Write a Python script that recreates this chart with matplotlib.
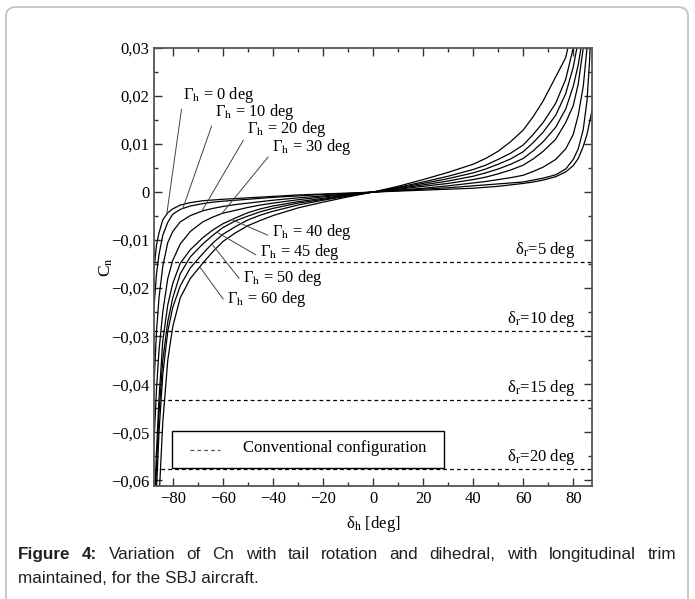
import matplotlib
matplotlib.use("Agg")
import matplotlib.pyplot as plt
import matplotlib.patches as patches
from matplotlib.ticker import MultipleLocator, FuncFormatter
import numpy as np

plt.rcParams["font.family"] = ["Liberation Serif", "DejaVu Serif"]
plt.rcParams["mathtext.fontset"] = "stix"

# tail rotation angle delta_h [deg]
delta_h = [-87.5, -86.5, -85.5, -84, -82, -80, -77, -73, -68, -64, -60, -55, -50, -45, -40,
           -30, -20, -10, 0, 10, 20, 30, 40, 45, 50, 55, 60, 64, 68, 73, 77, 80, 82, 84,
           85.5, 86.5, 87.5]

dihedral = [0, 10, 20, 30, 40, 45, 50, 60]

cn_g0 = [-0.016, -0.011, -0.0085, -0.0058, -0.0043, -0.0035, -0.0027, -0.0022, -0.0018,
         -0.00165, -0.0015, -0.00135, -0.0012, -0.00105, -0.0009, -0.0006, -0.0004, -0.0002,
         0.0, 0.0002, 0.0004, 0.0006, 0.0008, 0.001, 0.0012, 0.0015, 0.0018, 0.0021, 0.0025,
         0.0032, 0.0042, 0.0055, 0.007, 0.0095, 0.012, 0.0145, 0.017]
cn_g10 = [-0.024, -0.017, -0.013, -0.009, -0.0063, -0.0046, -0.0036, -0.0029, -0.0024,
          -0.0021, -0.0019, -0.0017, -0.0015, -0.0013, -0.0011, -0.0008, -0.0005, -0.0003,
          0.0, 0.0003, 0.0006, 0.0009, 0.0013, 0.0015, 0.0017, 0.0019, 0.0021, 0.0025,
          0.0029, 0.0036, 0.0048, 0.0068, 0.009, 0.013, 0.019, 0.027, 0.04]
cn_g20 = [-0.04, -0.029, -0.022, -0.0155, -0.0105, -0.0082, -0.0062, -0.0049, -0.0039,
          -0.0034, -0.003, -0.0026, -0.0023, -0.002, -0.0017, -0.0012, -0.0008, -0.0004,
          0.0, 0.0004, 0.0008, 0.0013, 0.0019, 0.0022, 0.0026, 0.003, 0.0035, 0.0043,
          0.0052, 0.0068, 0.009, 0.012, 0.016, 0.022, 0.030, 0.038, 0.05]
cn_g30 = [-0.052, -0.041, -0.033, -0.025, -0.018, -0.0142, -0.0108, -0.0082, -0.0062,
          -0.0052, -0.0044, -0.0038, -0.0032, -0.0027, -0.0023, -0.0016, -0.001, -0.0005,
          0.0, 0.0006, 0.0012, 0.0018, 0.0026, 0.0031, 0.0038, 0.0046, 0.0056, 0.0069,
          0.0085, 0.011, 0.0145, 0.018, 0.0225, 0.030, 0.038, 0.046, 0.058]
cn_g40 = [-0.068, -0.054, -0.043, -0.031, -0.0235, -0.019, -0.0148, -0.012, -0.0095,
          -0.0079, -0.0066, -0.0054, -0.0043, -0.0035, -0.0029, -0.002, -0.0013, -0.0006,
          0.0, 0.0007, 0.0015, 0.0023, 0.0033, 0.004, 0.0048, 0.0058, 0.0070, 0.0086,
          0.0105, 0.0135, 0.0173, 0.022, 0.0265, 0.033, 0.04, 0.048, 0.06]
cn_g45 = [-0.072, -0.057, -0.046, -0.035, -0.027, -0.022, -0.017, -0.0135, -0.0108,
          -0.009, -0.0074, -0.006, -0.005, -0.0041, -0.0034, -0.0023, -0.0015, -0.0007,
          0.0, 0.0009, 0.0018, 0.0028, 0.0040, 0.0048, 0.0058, 0.0069, 0.0084, 0.0103,
          0.0125, 0.016, 0.0205, 0.026, 0.0315, 0.04, 0.049, 0.058, 0.07]
cn_g50 = [-0.078, -0.062, -0.05, -0.038, -0.029, -0.024, -0.0195, -0.0158, -0.0128,
          -0.0106, -0.0088, -0.0072, -0.0058, -0.0048, -0.004, -0.0027, -0.0017, -0.0008,
          0.0, 0.0010, 0.0021, 0.0033, 0.0047, 0.0056, 0.0068, 0.0081, 0.0098, 0.012,
          0.0145, 0.0185, 0.0235, 0.030, 0.036, 0.045, 0.055, 0.065, 0.08]
cn_g60 = [-0.1, -0.08, -0.064, -0.048, -0.035, -0.028, -0.022, -0.018, -0.0148,
          -0.0124, -0.0103, -0.0085, -0.007, -0.0059, -0.0049, -0.0033, -0.0021, -0.001,
          0.0, 0.0012, 0.0026, 0.0041, 0.0058, 0.007, 0.0085, 0.0105, 0.0129, 0.0157,
          0.019, 0.024, 0.028, 0.035, 0.042, 0.05, 0.06, 0.07, 0.085]
curves = [cn_g0, cn_g10, cn_g20, cn_g30, cn_g40, cn_g45, cn_g50, cn_g60]

# conventional configuration, rudder deflections
rudder = [5, 10, 15, 20]
cn_conv = [-0.0146, -0.029, -0.0433, -0.0577]

# label placement: text position (delta, Cn) and delta where pointer hits the curve
label_pos = [(-76, 0.0202), (-63.2, 0.0167), (-50.4, 0.0131), (-40.4, 0.0093),
             (-40.4, -0.0083), (-45.2, -0.0125), (-52, -0.0179), (-58.4, -0.0223)]
label_hit = [-82.4, -76, -68.4, -60.4, -56.4, -62.4, -64.4, -69.2]

fig = plt.figure(figsize=(6.95, 5.99), dpi=100)
fig.patches.append(patches.FancyBboxPatch(
    (6 / 695, -0.05), 682 / 695, 1.0 - 7 / 599 + 0.05,
    boxstyle="round,pad=0,rounding_size=0.015",
    transform=fig.transFigure, fill=False, edgecolor="#c4c4c4", linewidth=1.3))

ax = fig.add_axes([154 / 695, 1 - 486 / 599, 438 / 695, 438 / 599])

for cn in curves:
    ax.plot(delta_h, cn, color="black", lw=0.9)

for r, c in zip(rudder, cn_conv):
    ax.axhline(c, color="black", lw=0.9, ls=(0, (3, 2.5)))
    ax.text(80.8, c + 0.0004, "\u03b4$_\\mathrm{r}$=%d deg" % r,
            ha="right", va="bottom", fontsize=12)

for g, cn, (tx, ty), hx in zip(dihedral, curves, label_pos, label_hit):
    hy = np.interp(hx, delta_h, cn)
    ax.annotate("\u0393$_\\mathrm{h}$ = %d deg" % g, xy=(hx, hy), xytext=(tx, ty),
                ha="left", va="center", fontsize=11.8,
                arrowprops=dict(arrowstyle="-", color="#444444", lw=0.7,
                                shrinkA=1, shrinkB=0, relpos=(0, 0.25)))

ax.set_xlim(-87.5, 87.5)
ax.set_ylim(-0.0612, 0.03)

ax.xaxis.set_major_locator(MultipleLocator(20))
ax.xaxis.set_minor_locator(MultipleLocator(10))
ax.yaxis.set_major_locator(MultipleLocator(0.01))
ax.yaxis.set_minor_locator(MultipleLocator(0.005))


def comma_fmt(v, pos):
    if abs(v) < 1e-9:
        return "0"
    s = "%.2f" % v
    return s.replace(".", ",").replace("-", "\u2212")


ax.yaxis.set_major_formatter(FuncFormatter(comma_fmt))
ax.tick_params(which="both", direction="in", top=True, right=True,
               labelsize=12, color="#333333", width=1.0)
ax.tick_params(which="major", length=6)
ax.tick_params(which="minor", length=3)
for s in ax.spines.values():
    s.set_color("#555555")
    s.set_linewidth(1.3)

ax.set_xlabel("\u03b4$_\\mathrm{h}$ [deg]", fontsize=12, labelpad=5)
ax.set_ylabel("C$_\\mathrm{n}$", fontsize=12.5, labelpad=-3)

# legend box for the conventional configuration
ax.add_patch(patches.Rectangle((18 / 438, 18 / 438), 272 / 438, 37 / 438,
                               transform=ax.transAxes, facecolor="white",
                               edgecolor="black", lw=1.0, zorder=5))
ax.plot([36 / 438, 66 / 438], [36.5 / 438, 36.5 / 438], transform=ax.transAxes,
        color="#555555", lw=0.9, ls=(0, (3, 2.5)), zorder=6)
ax.text(89 / 438, 37.5 / 438, "Conventional configuration", transform=ax.transAxes,
        ha="left", va="center", fontsize=12, zorder=6)

# caption, first line justified
cap_font = ["Liberation Sans", "DejaVu Sans"]
cap_size = 12.3
cap_y1 = 1 - 559 / 599
cap_y2 = 1 - 583 / 599
fig.text(18 / 695, cap_y2, "maintained, for the SBJ aircraft.",
         family=cap_font, fontsize=cap_size, va="baseline", ha="left", color="#231f20")

tokens = [("Figure", "bold"), ("4:", "bold")] + [
    (w, "normal") for w in
    "Variation of Cn with tail rotation and dihedral, with longitudinal trim".split()]
texts = [fig.text(0, cap_y1, w, family=cap_font, weight=wt, fontsize=cap_size,
                  va="baseline", ha="left", color="#231f20") for w, wt in tokens]
fig.canvas.draw()
widths = [t.get_window_extent().width for t in texts]
gap = (658 - sum(widths)) / (len(texts) - 1)
x = 18.0
for t, w in zip(texts, widths):
    t.set_x(x / 695)
    x += w + gap

fig.savefig("out.png", dpi=100)
